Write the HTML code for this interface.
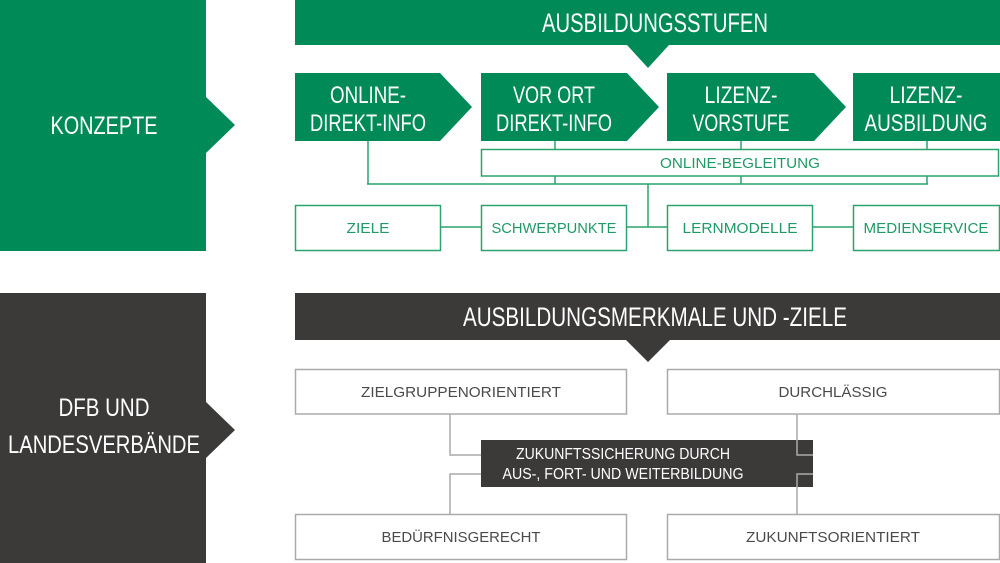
<!DOCTYPE html>
<html><head><meta charset="utf-8"><style>
html,body{margin:0;padding:0;background:#fff;}
svg{display:block;}
text{font-family:"Liberation Sans Narrow","Liberation Sans",sans-serif;}
</style></head><body>
<svg width="1000" height="563" viewBox="0 0 1000 563" xmlns="http://www.w3.org/2000/svg">
<g fill="#008a57">
<polygon points="0,0 206,0 206,97 235,125 206,153 206,251 0,251"/>
<polygon points="295,0 1000,0 1000,45 669,45 648,68 627,45 295,45"/>
<polygon points="295,73 440,73 472,107 440,141 295,141"/>
<polygon points="481,73 627,73 659,107 627,141 481,141"/>
<polygon points="667,73 814,73 846,107 814,141 667,141"/>
<rect x="853" y="73" width="147" height="68"/>
</g>
<g fill="none" stroke="#2aa36e" stroke-width="1.5">
<rect x="481.5" y="149.5" width="517" height="26.5"/>
<line x1="368" y1="141" x2="368" y2="184"/>
<line x1="367" y1="184" x2="928" y2="184"/>
<line x1="555" y1="141" x2="555" y2="149"/><line x1="555" y1="176" x2="555" y2="184"/>
<line x1="741" y1="141" x2="741" y2="149"/><line x1="741" y1="176" x2="741" y2="184"/>
<line x1="927" y1="141" x2="927" y2="149"/><line x1="927" y1="176" x2="927" y2="184"/>
<line x1="648" y1="184" x2="648" y2="227"/>
<line x1="441" y1="227" x2="481" y2="227"/>
<line x1="627" y1="227" x2="667" y2="227"/>
<line x1="813" y1="227" x2="853" y2="227"/>
<rect x="295.5" y="205.5" width="145" height="45"/>
<rect x="481.5" y="205.5" width="145" height="45"/>
<rect x="667.5" y="205.5" width="145" height="45"/>
<rect x="853.5" y="205.5" width="146" height="45"/>
</g>
<g fill="#3b3a39">
<polygon points="0,293 206,293 206,402 235,430 206,458 206,563 0,563"/>
<polygon points="295,293 1000,293 1000,340 670,340 648,362 626,340 295,340"/>
<rect x="481" y="440" width="332" height="47"/>
</g>
<g fill="none" stroke="#aaaaaa" stroke-width="1.5">
<polyline points="450,414 450,455 481,455"/>
<polyline points="481,474 450,474 450,514"/>
<polyline points="797,414 797,455 813,455"/>
<polyline points="813,474 797,474 797,514"/>
<rect x="295.5" y="369.5" width="331" height="44.5"/>
<rect x="667.5" y="369.5" width="332" height="44.5"/>
<rect x="295.5" y="514.5" width="331" height="45"/>
<rect x="667.5" y="514.5" width="332" height="45"/>
</g>
<g fill="#fff" text-anchor="middle">
<text x="104" y="134" font-size="25" textLength="107" lengthAdjust="spacingAndGlyphs">KONZEPTE</text>
<text x="655" y="32" font-size="27" textLength="226" lengthAdjust="spacingAndGlyphs">AUSBILDUNGSSTUFEN</text>
<text x="368" y="103" font-size="24" textLength="76" lengthAdjust="spacingAndGlyphs">ONLINE-</text>
<text x="368" y="131" font-size="24" textLength="116" lengthAdjust="spacingAndGlyphs">DIREKT-INFO</text>
<text x="554" y="103" font-size="24" textLength="82" lengthAdjust="spacingAndGlyphs">VOR ORT</text>
<text x="554" y="131" font-size="24" textLength="116" lengthAdjust="spacingAndGlyphs">DIREKT-INFO</text>
<text x="741" y="103" font-size="24" textLength="73" lengthAdjust="spacingAndGlyphs">LIZENZ-</text>
<text x="741" y="131" font-size="24" textLength="97" lengthAdjust="spacingAndGlyphs">VORSTUFE</text>
<text x="926" y="103" font-size="24" textLength="73" lengthAdjust="spacingAndGlyphs">LIZENZ-</text>
<text x="926" y="131" font-size="24" textLength="123" lengthAdjust="spacingAndGlyphs">AUSBILDUNG</text>
<text x="104" y="416" font-size="25" textLength="91" lengthAdjust="spacingAndGlyphs">DFB UND</text>
<text x="104" y="453" font-size="25" textLength="192" lengthAdjust="spacingAndGlyphs">LANDESVERBÄNDE</text>
<text x="655" y="326" font-size="27" textLength="384" lengthAdjust="spacingAndGlyphs">AUSBILDUNGSMERKMALE UND -ZIELE</text>
<text x="623" y="459" font-size="16" textLength="214" lengthAdjust="spacingAndGlyphs">ZUKUNFTSSICHERUNG DURCH</text>
<text x="623" y="479" font-size="16" textLength="241" lengthAdjust="spacingAndGlyphs">AUS-, FORT- UND WEITERBILDUNG</text>
</g>
<g fill="#1f9a66" text-anchor="middle" font-size="15">
<text x="740" y="168" textLength="160" lengthAdjust="spacingAndGlyphs">ONLINE-BEGLEITUNG</text>
<text x="368" y="233" textLength="43" lengthAdjust="spacingAndGlyphs">ZIELE</text>
<text x="554" y="233" textLength="125" lengthAdjust="spacingAndGlyphs">SCHWERPUNKTE</text>
<text x="740" y="233" textLength="115" lengthAdjust="spacingAndGlyphs">LERNMODELLE</text>
<text x="926" y="233" textLength="125" lengthAdjust="spacingAndGlyphs">MEDIENSERVICE</text>
</g>
<g fill="#4a4a4a" text-anchor="middle" font-size="15">
<text x="461" y="397" textLength="200" lengthAdjust="spacingAndGlyphs">ZIELGRUPPENORIENTIERT</text>
<text x="833" y="397" textLength="109" lengthAdjust="spacingAndGlyphs">DURCHLÄSSIG</text>
<text x="461" y="542" textLength="159" lengthAdjust="spacingAndGlyphs">BEDÜRFNISGERECHT</text>
<text x="833" y="542" textLength="174" lengthAdjust="spacingAndGlyphs">ZUKUNFTSORIENTIERT</text>
</g>
</svg>
</body></html>
